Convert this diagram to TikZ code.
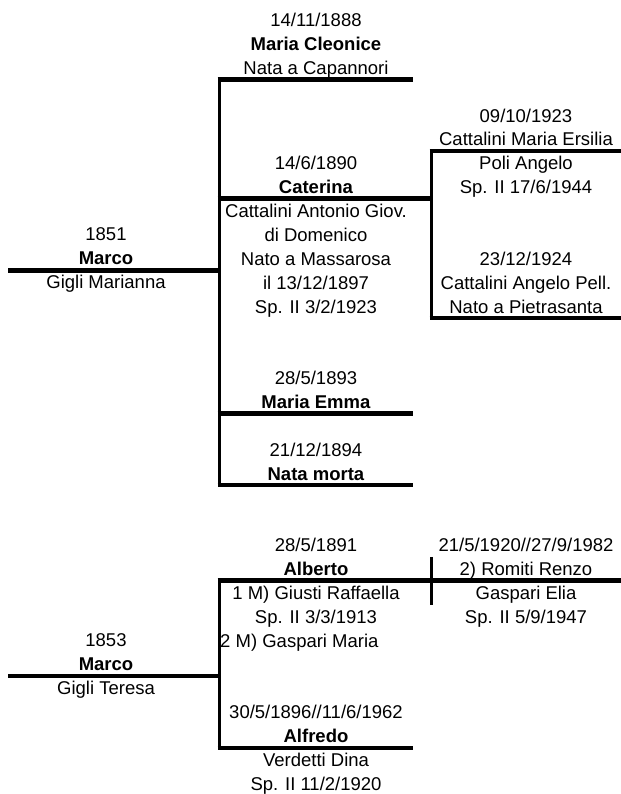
\documentclass[tikz,border=0pt]{standalone}
\usepackage{fontspec}
\setmainfont{Liberation Sans}
\begin{document}
\begin{tikzpicture}[x=1pt, y=-23.875pt,
    bar/.style={line width=4.5pt, shorten <=-1.5pt},
    spine/.style={line width=3pt},
    cell/.style={anchor=north, yshift=6.6pt, inner sep=0pt, align=center,
      font=\fontsize{18.5}{23.875}\selectfont}]
  \fill[white, use as bounding box] (0,0.18) rectangle (621,33.437);

  % First family (1851)
  \coordinate (marco1) at (9.5,11.5);
  \coordinate (top1) at (219,3.5);
  \coordinate (bot1) at (219,20.5);
  \coordinate (join1) at (219,11.5);
  \coordinate (cleonice) at (413,3.5);
  \coordinate (caterinaL) at (219,8.5);
  \coordinate (caterinaR) at (431,8.5);
  \coordinate (emmaL) at (219,17.5);
  \coordinate (emma) at (413,17.5);
  \coordinate (morta) at (413,20.5);
  \draw[spine] (top1) -- (bot1);
  \draw[bar] (marco1) -- (join1);
  \draw[bar] (top1) -- (cleonice);
  \draw[bar] (caterinaL) -- (caterinaR);
  \draw[bar] (emmaL) -- (emma);
  \draw[bar] (bot1) -- (morta);

  % Caterina's children
  \coordinate (ersiliaL) at (431,6.5);
  \coordinate (ersilia) at (621,6.5);
  \coordinate (angeloL) at (431,13.5);
  \coordinate (angelo) at (621,13.5);
  \draw[spine] (ersiliaL) -- (angeloL);
  \draw[bar] (ersiliaL) -- (ersilia);
  \draw[bar] (angeloL) -- (angelo);

  \node[cell] (tcleonice) at (316,1) {14/11/1888\\\textbf{Maria Cleonice}\\Nata a Capannori};
  \node[cell] (tersilia) at (526,5) {09/10/1923\\Cattalini Maria Ersilia\\Poli Angelo\\Sp. II 17/6/1944};
  \node[cell] (tcaterina) at (316,7) {14/6/1890\\\textbf{Caterina}\\Cattalini Antonio Giov.\\di Domenico\\Nato a Massarosa\\il 13/12/1897\\Sp. II 3/2/1923};
  \node[cell] (tmarco1) at (106,10) {1851\\\textbf{Marco}\\Gigli Marianna};
  \node[cell] (tangelo) at (526,11) {23/12/1924\\Cattalini Angelo Pell.\\Nato a Pietrasanta};
  \node[cell] (temma) at (316,16) {28/5/1893\\\textbf{Maria Emma}};
  \node[cell] (tmorta) at (316,19) {21/12/1894\\\textbf{Nata morta}};

  % Second family (1853)
  \coordinate (marco2) at (9.5,28.5);
  \coordinate (top2) at (219,24.5);
  \coordinate (bot2) at (219,31.5);
  \coordinate (join2) at (219,28.5);
  \coordinate (alberto) at (621,24.5);
  \coordinate (alfredo) at (413,31.5);
  \coordinate (renzoT) at (431,23.5);
  \coordinate (renzoB) at (431,25.5);
  \draw[spine] (top2) -- (bot2);
  \draw[spine] (renzoT) -- (renzoB);
  \draw[bar] (marco2) -- (join2);
  \draw[bar] (top2) -- (alberto);
  \draw[bar] (bot2) -- (alfredo);

  \node[cell] (talberto) at (316,23) {28/5/1891\\\textbf{Alberto}\\1 M) Giusti Raffaella\\Sp. II 3/3/1913};
  \node[cell] (trenzo) at (526,23) {21/5/1920//27/9/1982\\2) Romiti Renzo\\Gaspari Elia\\Sp. II 5/9/1947};
  \node[cell, anchor=north west] (tgaspari) at (220,27) {2 M) Gaspari Maria};
  \node[cell] (tmarco2) at (106,27) {1853\\\textbf{Marco}\\Gigli Teresa};
  \node[cell] (talfredo) at (316,30) {30/5/1896//11/6/1962\\\textbf{Alfredo}\\Verdetti Dina\\Sp. II 11/2/1920};
\end{tikzpicture}
\end{document}
